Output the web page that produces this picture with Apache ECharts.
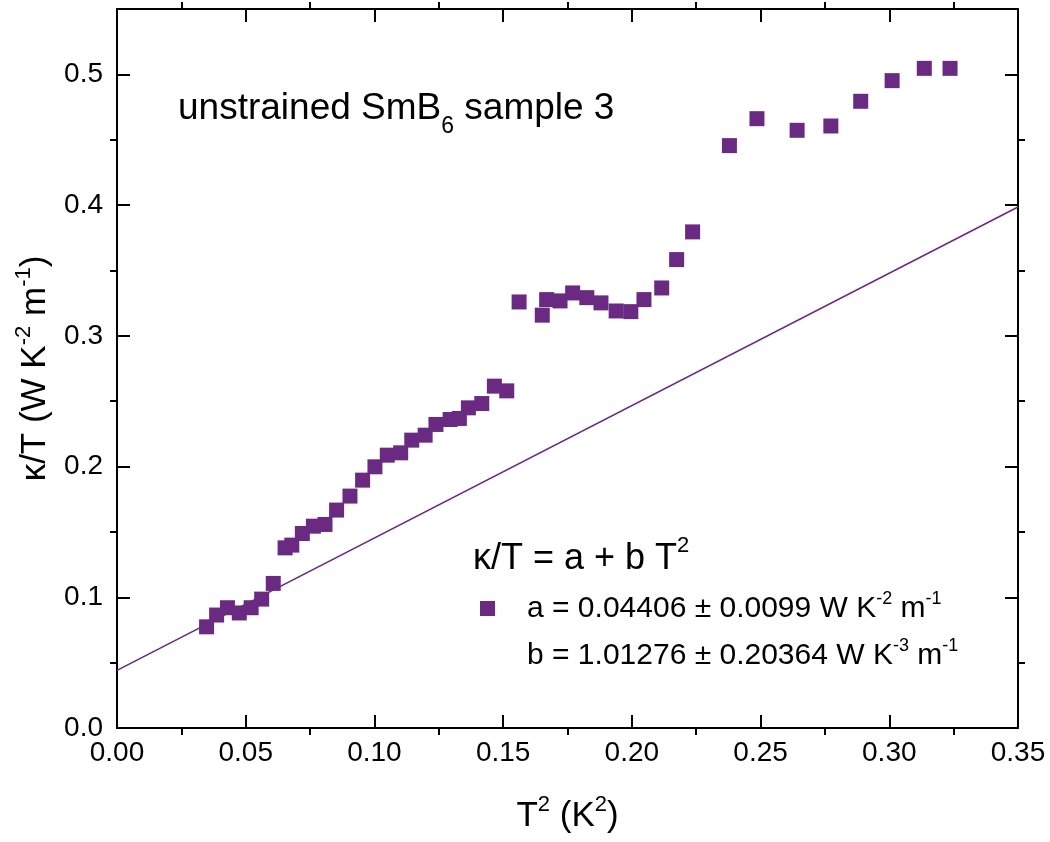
<!DOCTYPE html>
<html>
<head>
<meta charset="utf-8">
<script src="https://cdn.jsdelivr.net/npm/echarts@6/dist/echarts.min.js"></script>
<style>
html,body{margin:0;padding:0;background:#fff;}
#c{width:1050px;height:842px;}
</style>
</head>
<body>
<div id="c"></div>
<script>
// ---- data ----
const t2 = [0.0348,0.0387,0.0429,0.0475,0.0521,0.0562,0.0607,
  0.0653,0.0679,0.0720,0.0763,0.0808,
  0.0853,0.0905,0.0954,0.1002,0.1050,0.1102,0.1145,0.1197,0.1239,0.1294,0.1330,0.1365,0.1417,0.1466,0.1514,
  0.1562,0.1652,0.1669,0.1721,0.1770,0.1825,0.1880,0.1939,0.1996,0.2047,0.2116,
  0.2174,0.2236,0.2379,0.2486,0.2642,0.2773,0.2889,0.3011,0.3136,0.3236];
const kappaT = [0.0774,0.0864,0.0920,0.0880,0.0920,0.0986,0.1106,
  0.1378,0.1399,0.1488,0.1544,0.1557,
  0.1667,0.1774,0.1896,0.1998,0.2087,0.2105,0.2202,0.2240,0.2322,0.2360,0.2368,0.2449,0.2482,0.2615,0.2579,
  0.3259,0.3158,0.3277,0.3267,0.3328,0.3292,0.3252,0.3190,0.3185,0.3277,0.3366,
  0.3583,0.3795,0.4455,0.4661,0.4572,0.4605,0.4794,0.4952,0.5046,0.5046];
const fitX = [0.0, 0.35];
const fitY = [0.04406, 0.39853];
const xMajor = [0,0.05,0.10,0.15,0.20,0.25,0.30,0.35];
const xMinor = [0.025,0.075,0.125,0.175,0.225,0.275,0.325];
const yMajor = [0,0.1,0.2,0.3,0.4,0.5];
const yMinor = [0.05,0.15,0.25,0.35,0.45];
const xLabels = ['0.00','0.05','0.10','0.15','0.20','0.25','0.30','0.35'];
const yLabels = ['0.0','0.1','0.2','0.3','0.4','0.5'];

const purple = '#6a2a82';
const FONT = 'Liberation Sans, Arial, sans-serif';

const scatterData = t2.map((x,i)=>[x,kappaT[i]]);
const lineData = fitX.map((x,i)=>[x,fitY[i]]);

function xAxisDef(pos, ticks, inside, len, showLine, labels){
  return {
    type:'value', position:pos, min:0, max:0.35, interval:0.05,
    axisLine:{show:showLine, onZero:false, lineStyle:{color:'#000', width:2}},
    axisTick:{show:true, inside:inside, length:len, customValues:ticks, lineStyle:{color:'#000', width:2}},
    axisLabel: labels ? {show:true, customValues:xMajor, margin:11, color:'#000', fontSize:28, fontFamily:FONT,
      formatter:function(v){const i=xMajor.findIndex(m=>Math.abs(m-v)<1e-9); return i>=0?xLabels[i]:'';}} : {show:false},
    splitLine:{show:false}, minorTick:{show:false}
  };
}
function yAxisDef(pos, ticks, inside, len, showLine, labels){
  return {
    type:'value', position:pos, min:0, max:0.55, interval:0.05,
    axisLine:{show:showLine, onZero:false, lineStyle:{color:'#000', width:2}},
    axisTick:{show:true, inside:inside, length:len, customValues:ticks, lineStyle:{color:'#000', width:2}},
    axisLabel: labels ? {show:true, customValues:yMajor, margin:14, color:'#000', fontSize:28, fontFamily:FONT,
      formatter:function(v){const i=yMajor.findIndex(m=>Math.abs(m-v)<1e-9); return i>=0?yLabels[i]:'';}} : {show:false},
    splitLine:{show:false}, minorTick:{show:false}
  };
}

const xAxes = [
  xAxisDef('bottom', xMajor, true, 13, true, true),
  xAxisDef('bottom', xMinor, false, 7, false, false),
  xAxisDef('top', xMajor, true, 13, true, false),
  xAxisDef('top', xMinor, false, 7, false, false)
];
xAxes[0].name = '{n|T}{sp|2}{n| (K}{sp|2}{n|)}';
xAxes[0].nameLocation = 'middle';
xAxes[0].nameGap = 66;
xAxes[0].nameTextStyle = {rich:{
  n:{fontSize:35, fontFamily:FONT, color:'#000', lineHeight:40, verticalAlign:'bottom'},
  sp:{fontSize:22, fontFamily:FONT, color:'#000', lineHeight:40, verticalAlign:'top'}
}};

const yAxes = [
  yAxisDef('left', yMajor, true, 13, true, true),
  yAxisDef('left', yMinor, false, 7, false, false),
  yAxisDef('right', yMajor, true, 13, true, false),
  yAxisDef('right', yMinor, false, 7, false, false)
];
yAxes[0].name = '{n|κ/T (W K}{sp|-2}{n| m}{sp|-1}{n|)}';
yAxes[0].nameLocation = 'middle';
yAxes[0].nameRotate = 90;
yAxes[0].nameGap = 64;
yAxes[0].nameTextStyle = {rich:{
  n:{fontSize:35, fontFamily:FONT, color:'#000', lineHeight:40, verticalAlign:'bottom'},
  sp:{fontSize:22, fontFamily:FONT, color:'#000', lineHeight:40, verticalAlign:'top'}
}};

const option = {
  backgroundColor:'#fff',
  animation:false,
  grid:{left:117, right:32, top:9, bottom:114, containLabel:false},
  xAxis: xAxes,
  yAxis: yAxes,
  series:[
    {type:'line', name:'fit', data:lineData, xAxisIndex:0, yAxisIndex:0, showSymbol:false, symbol:'none',
     lineStyle:{color:purple, width:1.6}, z:2, silent:true},
    {type:'scatter', name:'data', data:scatterData, xAxisIndex:0, yAxisIndex:0, symbol:'rect', symbolSize:15,
     itemStyle:{color:purple, opacity:1}, z:3}
  ],
  graphic:[
    {type:'text', left:178, top:90, style:{
      text:'{n|unstrained SmB}{sb|6}{n| sample 3}',
      rich:{
        n:{fontSize:37, fontFamily:FONT, fill:'#000', lineHeight:48, verticalAlign:'top'},
        sb:{fontSize:23, fontFamily:FONT, fill:'#000', lineHeight:48, verticalAlign:'bottom'}
      }}},
    {type:'text', left:473, top:535, style:{
      text:'{n|κ/T = a + b T}{sp|2}',
      rich:{
        n:{fontSize:36, fontFamily:FONT, fill:'#000', lineHeight:42, verticalAlign:'bottom'},
        sp:{fontSize:22, fontFamily:FONT, fill:'#000', lineHeight:42, verticalAlign:'top'}
      }}},
    {type:'rect', shape:{x:480, y:601, width:15, height:15}, style:{fill:purple}},
    {type:'text', left:527, top:590, style:{
      text:'{n|a = 0.04406 ± 0.0099 W K}{sp|-2}{n| m}{sp|-1}',
      rich:{
        n:{fontSize:30, fontFamily:FONT, fill:'#000', lineHeight:34, verticalAlign:'bottom'},
        sp:{fontSize:18, fontFamily:FONT, fill:'#000', lineHeight:34, verticalAlign:'top'}
      }}},
    {type:'text', left:527, top:637, style:{
      text:'{n|b = 1.01276 ± 0.20364 W K}{sp|-3}{n| m}{sp|-1}',
      rich:{
        n:{fontSize:30, fontFamily:FONT, fill:'#000', lineHeight:34, verticalAlign:'bottom'},
        sp:{fontSize:18, fontFamily:FONT, fill:'#000', lineHeight:34, verticalAlign:'top'}
      }}}
  ]
};
const chart = echarts.init(document.getElementById('c'), null, {renderer:'canvas'});
chart.setOption(option);
</script>
</body>
</html>
